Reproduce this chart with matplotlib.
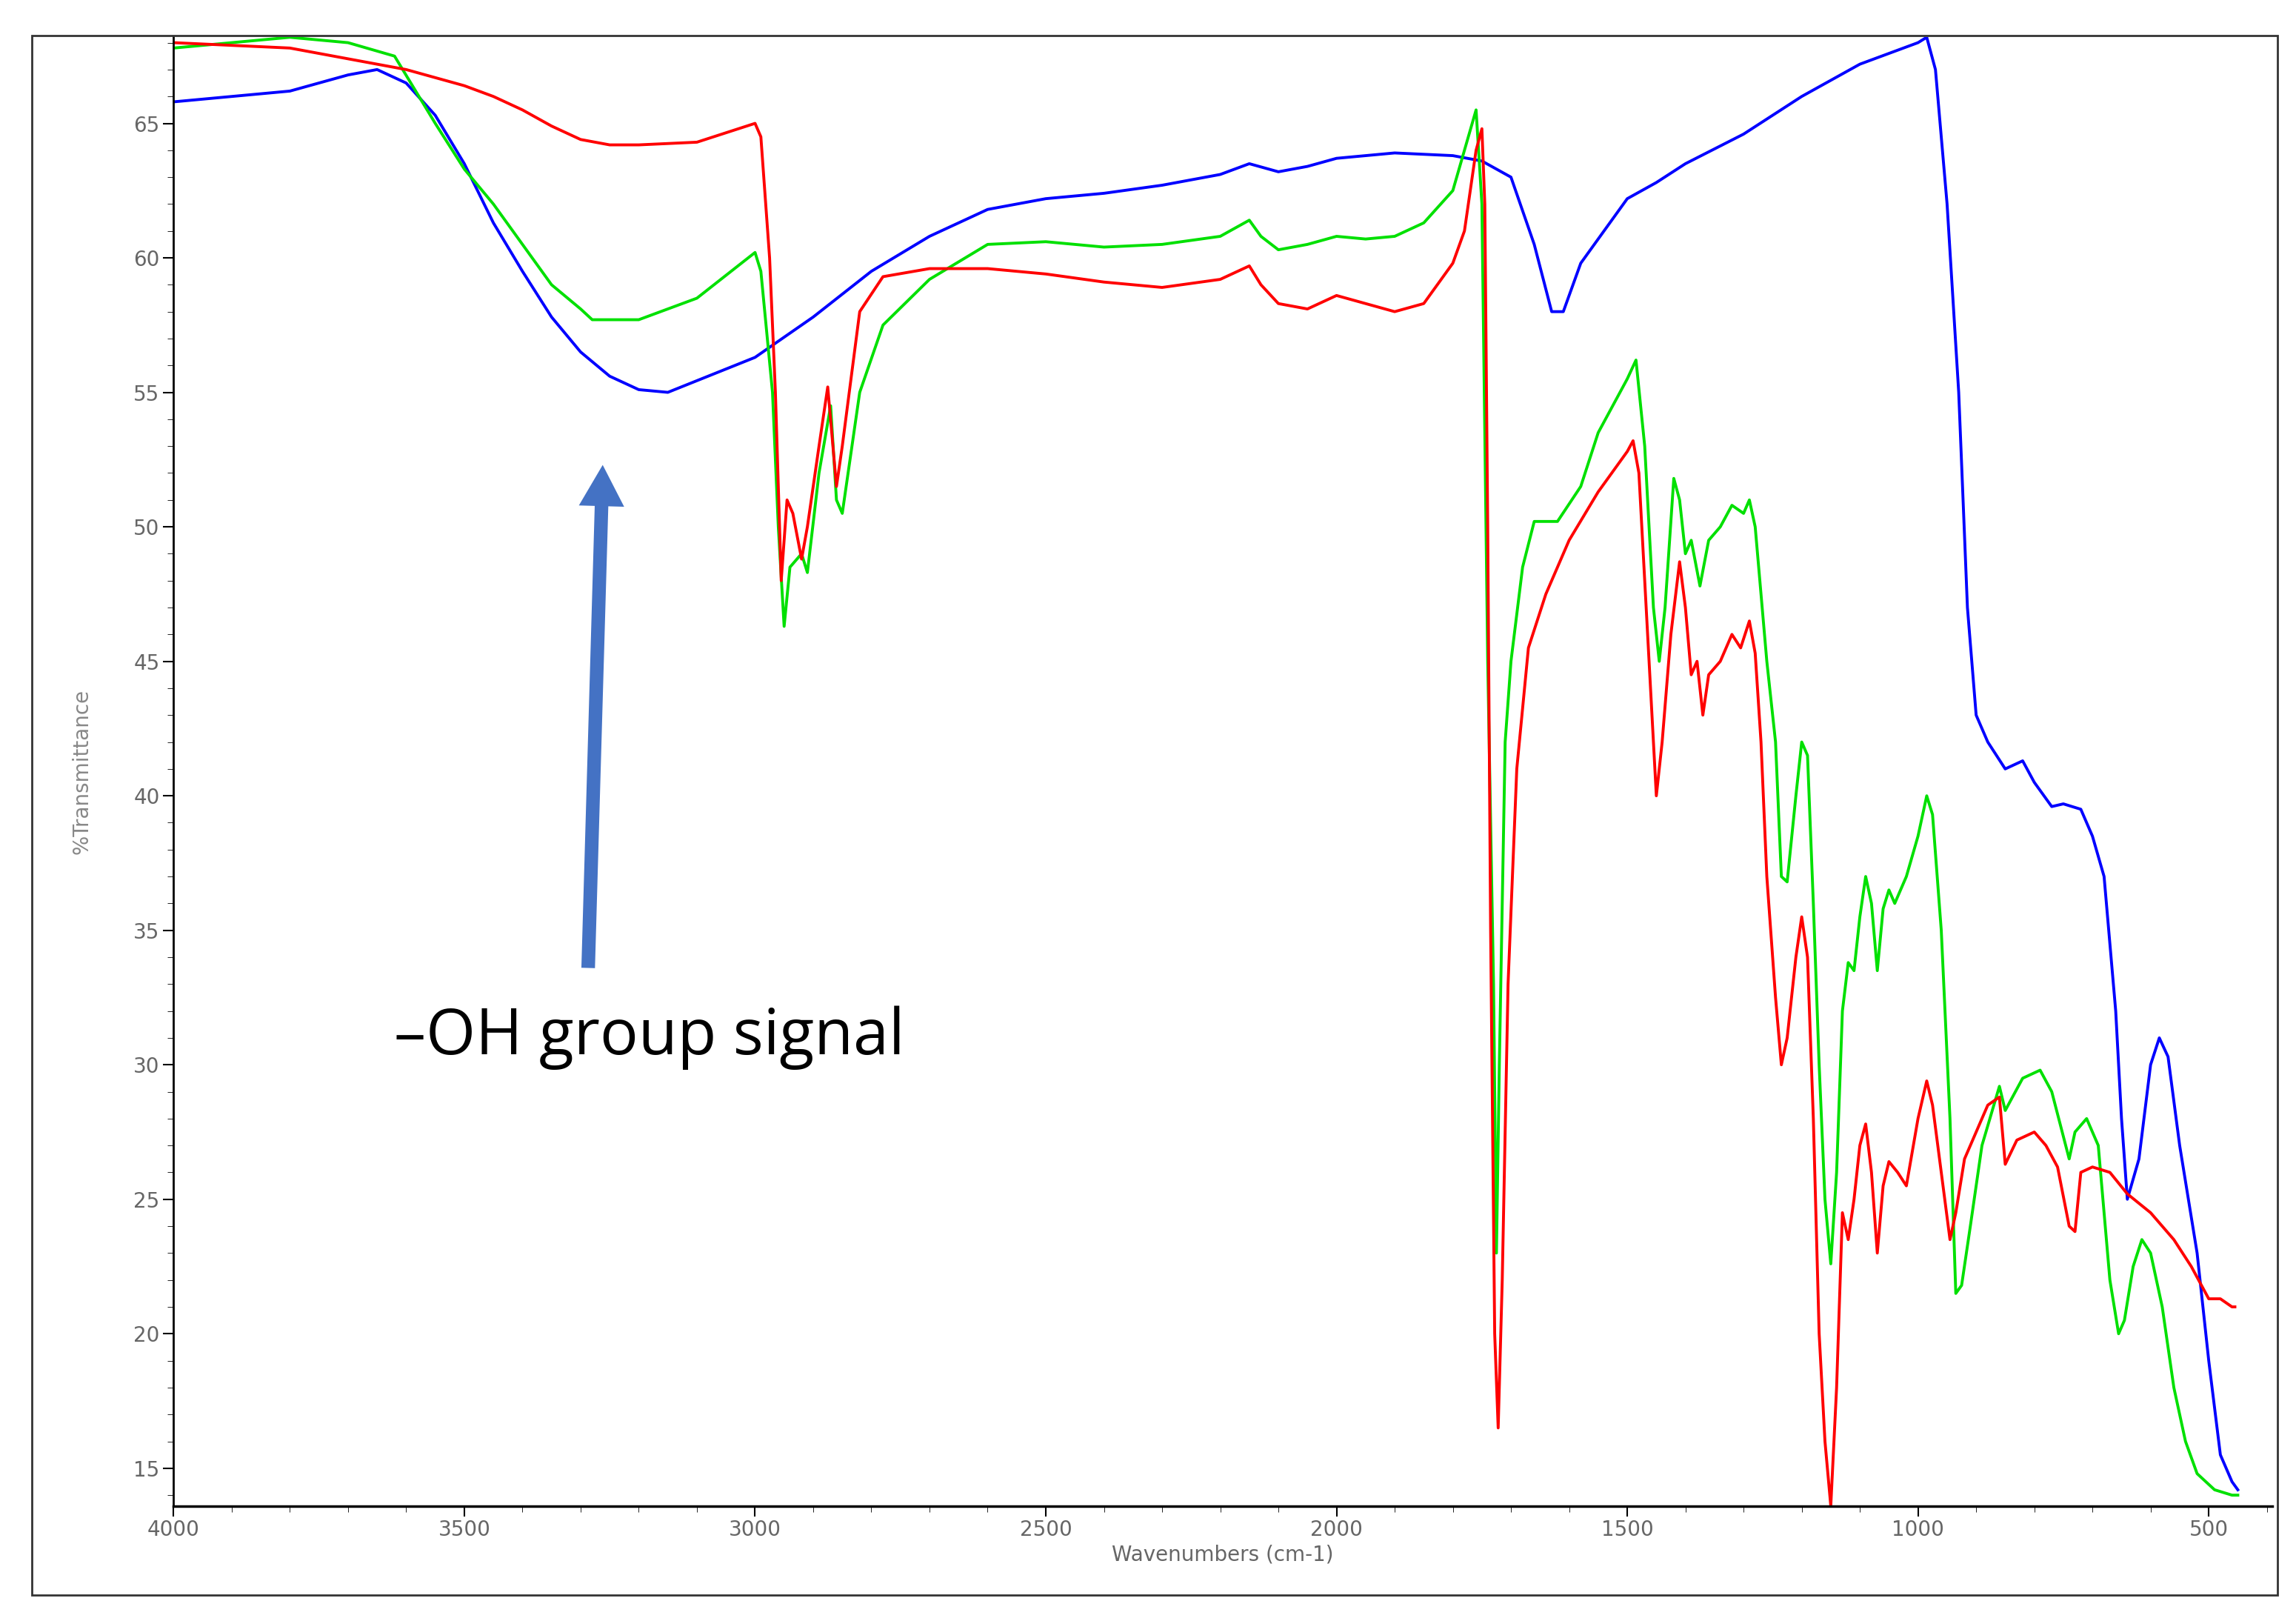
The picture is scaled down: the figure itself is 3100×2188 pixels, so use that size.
import numpy as np
import matplotlib
matplotlib.use('Agg')
import matplotlib.pyplot as plt
from matplotlib.ticker import MultipleLocator
from matplotlib.patches import Rectangle

# Blue spectrum
blue_wn = [4000, 3800, 3700, 3650, 3600, 3550, 3500, 3450, 3400, 3350, 3300, 3250, 3200, 3150,
           3000, 2900, 2800, 2700,
           2600, 2500, 2400, 2300, 2200, 2150, 2100, 2050, 2000, 1900, 1800, 1750, 1700, 1660,
           1630, 1610, 1580, 1500, 1450, 1400, 1300, 1200, 1100, 1000, 985, 970, 950, 930, 915,
           900, 880, 850, 820, 800, 770, 750, 720, 700, 680, 660, 650, 640, 620, 600, 585, 570,
           550, 520, 500, 480, 460, 450]
blue_t = [65.8, 66.2, 66.8, 67.0, 66.5, 65.3, 63.5, 61.3, 59.5, 57.8, 56.5, 55.6, 55.1, 55.0,
          56.3, 57.8, 59.5, 60.8,
          61.8, 62.2, 62.4, 62.7, 63.1, 63.5, 63.2, 63.4, 63.7, 63.9, 63.8, 63.6, 63.0, 60.5,
          58.0, 58.0, 59.8, 62.2, 62.8, 63.5, 64.6, 66.0, 67.2, 68.0, 68.2, 67.0, 62.0, 55.0, 47.0,
          43.0, 42.0, 41.0, 41.3, 40.5, 39.6, 39.7, 39.5, 38.5, 37.0, 32.0, 28.0, 25.0, 26.5, 30.0,
          31.0, 30.3, 27.0, 23.0, 19.0, 15.5, 14.5, 14.2]

# Green spectrum
green_wn = [4000, 3800, 3700, 3620, 3550, 3500, 3450, 3400, 3350, 3300, 3280, 3200, 3100, 3000,
            2990, 2970, 2960,
            2950, 2940, 2920, 2910, 2890, 2870, 2860, 2850, 2820, 2780, 2700, 2600, 2500, 2400,
            2300, 2200, 2150, 2130, 2100, 2050, 2000, 1950, 1900, 1850, 1800, 1760, 1750, 1740,
            1730, 1725, 1720, 1710, 1700, 1680, 1660, 1620, 1580, 1550, 1500, 1485, 1470, 1455,
            1445, 1435, 1420, 1410, 1400, 1390, 1375, 1360, 1340, 1320, 1300, 1290, 1280, 1260,
            1245, 1235, 1225, 1210, 1200, 1190, 1180, 1170, 1160, 1150, 1140, 1130, 1120, 1110,
            1100, 1090, 1080, 1070, 1060, 1050, 1040, 1020, 1000, 985, 975, 960, 945, 935, 925,
            910, 890, 860, 850, 820, 790, 770, 740, 730, 710, 690, 670, 655, 645, 630, 615, 600,
            580, 560, 540, 520, 490, 460, 450]
green_t = [67.8, 68.2, 68.0, 67.5, 65.0, 63.3, 62.0, 60.5, 59.0, 58.1, 57.7, 57.7, 58.5, 60.2,
           59.5, 55.0, 50.0,
           46.3, 48.5, 49.0, 48.3, 52.0, 54.5, 51.0, 50.5, 55.0, 57.5, 59.2, 60.5, 60.6, 60.4,
           60.5, 60.8, 61.4, 60.8, 60.3, 60.5, 60.8, 60.7, 60.8, 61.3, 62.5, 65.5, 62.0, 45.0,
           33.0, 23.0, 30.0, 42.0, 45.0, 48.5, 50.2, 50.2, 51.5, 53.5, 55.5, 56.2, 53.0, 47.0,
           45.0, 47.0, 51.8, 51.0, 49.0, 49.5, 47.8, 49.5, 50.0, 50.8, 50.5, 51.0, 50.0, 45.0,
           42.0, 37.0, 36.8, 40.0, 42.0, 41.5, 36.0, 30.0, 25.0, 22.6, 26.0, 32.0, 33.8, 33.5,
           35.5, 37.0, 36.0, 33.5, 35.8, 36.5, 36.0, 37.0, 38.5, 40.0, 39.3, 35.0, 28.0, 21.5, 21.8,
           24.0, 27.0, 29.2, 28.3, 29.5, 29.8, 29.0, 26.5, 27.5, 28.0, 27.0, 22.0, 20.0, 20.5, 22.5,
           23.5, 23.0, 21.0, 18.0, 16.0, 14.8, 14.2, 14.0, 14.0]

# Red spectrum
red_wn = [4000, 3800, 3700, 3600, 3500, 3450, 3400, 3350, 3300, 3250, 3200, 3100, 3000, 2990,
          2975, 2965, 2955, 2945,
          2935, 2920, 2910, 2890, 2875, 2860, 2850, 2820, 2780, 2700, 2600, 2500, 2400, 2300,
          2200, 2150, 2130, 2100, 2050, 2000, 1950, 1900, 1850, 1800, 1780, 1760, 1750, 1745,
          1740, 1735, 1728, 1722, 1715, 1705, 1690, 1670, 1640, 1600, 1550, 1500, 1490, 1480,
          1470, 1460, 1450, 1440, 1425, 1410, 1400, 1390, 1380, 1370, 1360, 1340, 1320, 1305,
          1290, 1280, 1270, 1260, 1245, 1235, 1225, 1210, 1200, 1190, 1180, 1170, 1160, 1150,
          1140, 1130, 1120, 1110, 1100, 1090, 1080, 1070, 1060, 1050, 1035, 1020, 1000, 985, 975,
          960, 945, 935, 920, 880, 860, 850, 830, 800, 780, 760, 740, 730, 720, 700, 670, 640,
          600, 560, 530, 500, 480, 460, 455]
red_t = [68.0, 67.8, 67.4, 67.0, 66.4, 66.0, 65.5, 64.9, 64.4, 64.2, 64.2, 64.3, 65.0, 64.5,
         60.0, 55.0, 48.0, 51.0,
         50.5, 48.8, 50.0, 53.0, 55.2, 51.5, 53.0, 58.0, 59.3, 59.6, 59.6, 59.4, 59.1, 58.9,
         59.2, 59.7, 59.0, 58.3, 58.1, 58.6, 58.3, 58.0, 58.3, 59.8, 61.0, 64.0, 64.8, 62.0,
         50.0, 35.0, 20.0, 16.5, 22.0, 33.0, 41.0, 45.5, 47.5, 49.5, 51.3, 52.8, 53.2, 52.0,
         48.0, 44.0, 40.0, 42.0, 46.0, 48.7, 47.0, 44.5, 45.0, 43.0, 44.5, 45.0, 46.0, 45.5,
         46.5, 45.3, 42.0, 37.0, 32.5, 30.0, 31.0, 34.0, 35.5, 34.0, 28.0, 20.0, 16.0, 13.6,
         18.0, 24.5, 23.5, 25.0, 27.0, 27.8, 26.0, 23.0, 25.5, 26.4, 26.0, 25.5, 28.0, 29.4, 28.5,
         26.0, 23.5, 24.5, 26.5, 28.5, 28.8, 26.3, 27.2, 27.5, 27.0, 26.2, 24.0, 23.8, 26.0, 26.2,
         26.0, 25.2, 24.5, 23.5, 22.5, 21.3, 21.3, 21.0, 21.0]

fig = plt.figure(figsize=(31, 21.88), dpi=100)
ax = fig.add_axes([0.0756, 0.071, 0.914, 0.906])
fig.patches.append(Rectangle((0.014, 0.016), 0.978, 0.962, transform=fig.transFigure,
                             fill=False, edgecolor='#333333', linewidth=2))

ax.plot(blue_wn, blue_t, color='#0000ff', lw=2.8)
ax.plot(green_wn, green_t, color='#00e000', lw=2.8)
ax.plot(red_wn, red_t, color='#ff0000', lw=2.8)

ax.set_xlim(4000, 391)
ax.set_ylim(13.6, 68.2)
ax.xaxis.set_major_locator(MultipleLocator(500))
ax.xaxis.set_minor_locator(MultipleLocator(100))
ax.yaxis.set_major_locator(MultipleLocator(5))
ax.yaxis.set_minor_locator(MultipleLocator(1))
ax.tick_params(labelsize=20, labelcolor='#666666', length=10, width=1.5, direction='out')
ax.tick_params(which='minor', length=6)
for s in ['top', 'right']:
    ax.spines[s].set_visible(False)
ax.spines['left'].set_linewidth(2)
ax.spines['bottom'].set_linewidth(2.5)
ax.set_xlabel('Wavenumbers (cm-1)', fontsize=20, color='#666666', labelpad=4)
ax.set_ylabel('%Transmittance', fontsize=20, color='#888888', labelpad=40)

# thick block arrow pointing at the broad OH band
ax.annotate('', xy=(3262, 52.3), xytext=(3287, 33.6),
            arrowprops=dict(arrowstyle='simple,head_length=1.0,head_width=1.1,tail_width=0.33',
                            mutation_scale=40, color='#4472C4', lw=0, shrinkA=0, shrinkB=0))
ax.text(3621, 31.0, '\u2013OH group signal', fontsize=62, family='Open Sans',
        va='center', ha='left', color='black')

fig.savefig('out.png', dpi=100)
